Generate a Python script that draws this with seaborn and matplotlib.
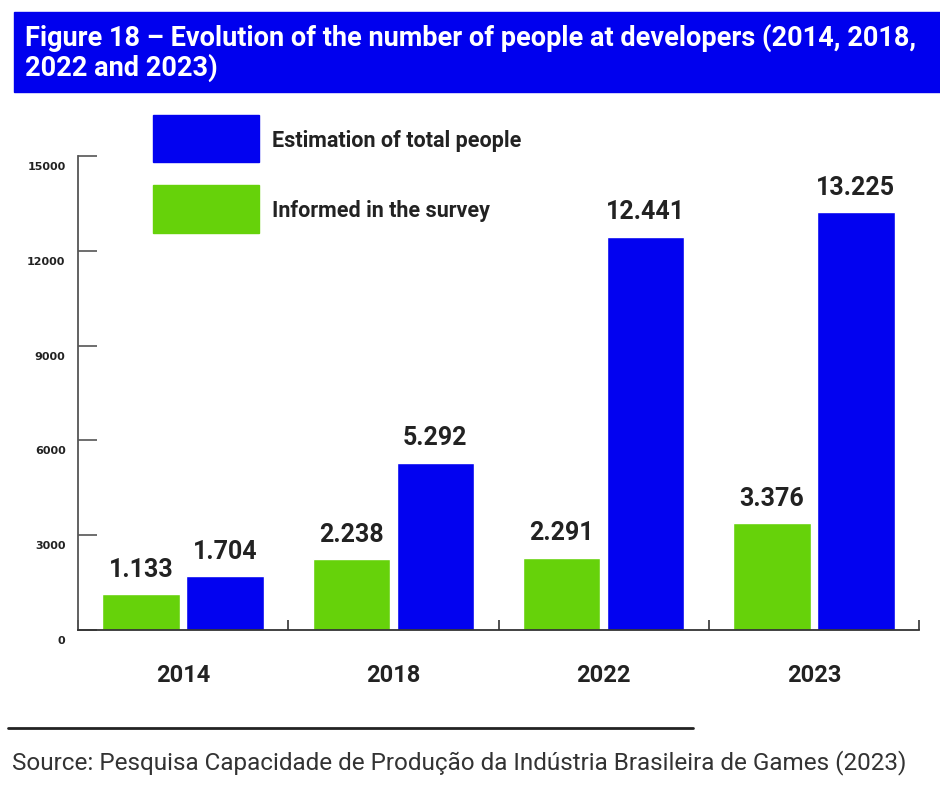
import pandas as pd
import seaborn as sns
import matplotlib.pyplot as plt
import matplotlib.transforms as mtransforms
from matplotlib.patches import Rectangle
from matplotlib.lines import Line2D

# data
years = ["2014", "2018", "2022", "2023"]
informed = [1133, 2238, 2291, 3376]
estimated = [1704, 5292, 12441, 13225]
series = ["Informed in the survey", "Estimation of total people"]
yticks = [0, 3000, 6000, 9000, 12000, 15000]

green = "#66d20a"
blue = "#0202f0"

sns.set_style("white")
plt.rcParams["font.family"] = ["Roboto", "DejaVu Sans"]

df = pd.DataFrame(
    {
        "year": years * 2,
        "series": [series[0]] * len(years) + [series[1]] * len(years),
        "value": informed + estimated,
    }
)

fig = plt.figure(figsize=(9.4, 7.9), dpi=100)
ax = fig.add_axes([78 / 940, 1 - 630 / 790, (919 - 78) / 940, (630 - 156) / 790])

sns.barplot(
    data=df,
    x="year",
    y="value",
    hue="series",
    hue_order=series,
    palette=[green, blue],
    saturation=1,
    width=0.8,
    gap=0.08,
    legend=False,
    ax=ax,
)

# value labels above bars, brazilian thousands separator
for cont, vals in zip(ax.containers, [informed, estimated]):
    ax.bar_label(
        cont,
        labels=[f"{v:,}".replace(",", ".") for v in vals],
        padding=9,
        fontsize=18,
        fontweight="bold",
        color="#222222",
    )

ax.set_xlim(-0.5, 3.5)
ax.set_ylim(0, 15000)
ax.set_xlabel("")
ax.set_ylabel("")

for side in ["top", "right"]:
    ax.spines[side].set_visible(False)
ax.spines["left"].set_color("#555555")
ax.spines["left"].set_linewidth(1.3)
ax.spines["bottom"].set_color("#333333")
ax.spines["bottom"].set_linewidth(1.3)

ax.set_yticks(yticks)
ax.set_yticklabels([str(t) for t in yticks], fontsize=8, fontweight="bold",
                   family="DejaVu Sans", color="#222222")
ax.tick_params(axis="y", left=True, direction="in", length=14, width=1.2,
               color="#555555", pad=9)
# labels sit a little below their tick marks in the original
offset = mtransforms.ScaledTranslation(0, -0.1, fig.dpi_scale_trans)
for lab in ax.get_yticklabels():
    lab.set_transform(lab.get_transform() + offset)

ax.set_xticks(range(len(years)))
ax.set_xticklabels(years, fontsize=17, fontweight="bold", color="#222222")
ax.set_xticks([i - 0.5 for i in range(len(years) + 1)], minor=True)
ax.tick_params(axis="x", which="major", bottom=False, pad=21)
ax.tick_params(axis="x", which="minor", bottom=True, direction="in", length=7,
               width=1.2, color="#333333")

# title banner
fig.patches.append(Rectangle((14 / 940, 1 - 92 / 790), 1, 80 / 790,
                             transform=fig.transFigure, color="#0000ee", zorder=0))
fig.text(25 / 940, 1 - 38 / 790,
         "Figure 18 – Evolution of the number of people at developers (2014, 2018,",
         color="white", fontsize=19.5, fontweight="bold", va="center", ha="left")
fig.text(25 / 940, 1 - 68 / 790, "2022 and 2023)",
         color="white", fontsize=19.5, fontweight="bold", va="center", ha="left")

# legend boxes
fig.patches.append(Rectangle((153 / 940, 1 - 162 / 790), 106 / 940, 47 / 790,
                             transform=fig.transFigure, color=blue))
fig.patches.append(Rectangle((153 / 940, 1 - 233 / 790), 106 / 940, 48 / 790,
                             transform=fig.transFigure, color=green))
fig.text(272 / 940, 1 - 141 / 790, series[1], fontsize=15.5, fontweight="bold",
         color="#222222", va="center")
fig.text(272 / 940, 1 - 211 / 790, series[0], fontsize=15.5, fontweight="bold",
         color="#222222", va="center")

# source
fig.lines.append(Line2D([8 / 940, 693 / 940], [1 - 728 / 790, 1 - 728 / 790],
                        transform=fig.transFigure, color="#222222", linewidth=2))
fig.text(12 / 940, 1 - 763 / 790,
         "Source: Pesquisa Capacidade de Produção da Indústria Brasileira de Games (2023)",
         fontsize=17.5, color="#333333", va="center", ha="left")

fig.savefig("out.png", dpi=100)
